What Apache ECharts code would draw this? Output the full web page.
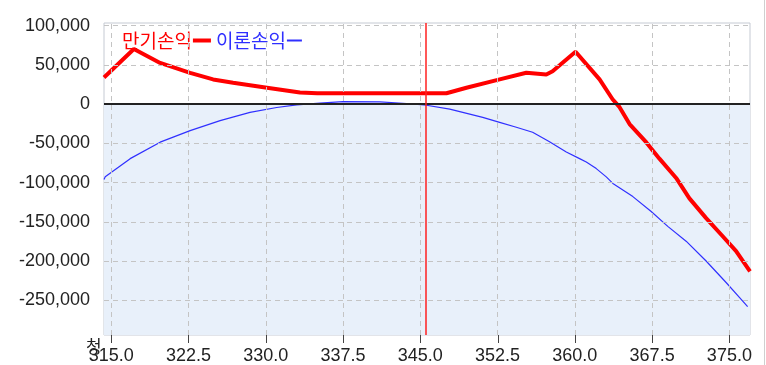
<!DOCTYPE html>
<html><head><meta charset="utf-8">
<script src="https://cdn.jsdelivr.net/npm/echarts@6/dist/echarts.min.js"></script>
<style>html,body{margin:0;padding:0;background:#fff}#c{width:766px;height:365px}</style>
</head><body><div id="c"></div>
<script>
// Data
const expiryName = '만기손익';
const theoryName = '이론손익';
const expiryX = [314.3, 317.2, 319.75, 322.66, 324.89, 326.83, 330.12, 333.32, 335.0, 347.54, 349.48, 352.70, 355.29, 357.23, 357.84, 360.07, 362.40, 363.66, 364.34, 365.31, 366.92, 368.21, 369.83, 371.12, 372.74, 374.35, 375.65, 377.0];
const expiryY = [34100, 70300, 52600, 40000, 31600, 27400, 21000, 14800, 14000, 14000, 21000, 31600, 40000, 37900, 42000, 66900, 31600, 6300, -3800, -25300, -48400, -69400, -94000, -120000, -145200, -168300, -187200, -213000];
const theoryX = [314.3, 314.42, 316.84, 319.75, 322.66, 325.57, 328.47, 331.06, 333.0, 335.26, 337.49, 341.07, 343.66, 345.6, 347.86, 351.06, 352.70, 354.32, 355.90, 357.5, 359.17, 360.46, 361.11, 362.08, 363.05, 363.69, 365.63, 367.41, 369.02, 370.80, 372.74, 374.68, 375.97, 376.77];
const theoryY = [-96000, -92600, -69400, -48400, -33700, -21000, -10500, -4200, -900, 1300, 3400, 2900, 900, -1300, -6300, -16800, -23100, -29400, -35700, -47500, -61000, -69400, -73600, -82100, -92600, -101000, -117800, -136700, -155700, -174600, -199900, -227300, -246200, -258000];
const xTicks = [315, 322.5, 330, 337.5, 345, 352.5, 360, 367.5, 375];
const yTicks = [-250000, -200000, -150000, -100000, -50000, 0, 50000, 100000];
const currentPrice = 345.57;
const xMin = 314.3, xMax = 377.0;
const yMin = -294200, yMax = 103500;

const zip = (a, b) => a.map((v, i) => [v, b[i]]);
const fmtNum = v => v.toLocaleString('en-US');
const gridStyle = {color: '#c4c4c4', type: [5, 4], width: 1};
const gridLines = xTicks.map(v => ({xAxis: v, lineStyle: gridStyle}))
  .concat(yTicks.filter(v => v !== 0).map(v => ({yAxis: v, lineStyle: gridStyle})));

const G = {left: 104, top: 23, width: 646, height: 315};

const chart = echarts.init(document.getElementById('c'), null, {renderer: 'canvas'});
const baseGraphic = [
  {id: 'cheong', type: 'text', left: 86, top: 338, style: {text: '청', fontFamily: 'Noto Sans CJK KR', fontSize: 17, fill: '#222'}, z: 10},
  {id: 'frame', type: 'line', shape: {x1: 764.5, y1: 0, x2: 764.5, y2: 365}, style: {stroke: '#cfcfcf', lineWidth: 1}}
];
chart.setOption({
  animation: false,
  backgroundColor: '#fff',
  grid: Object.assign({show: true, borderColor: '#c5cad3', borderWidth: 1, backgroundColor: 'transparent'}, G),
  legend: [
    {
      left: 117, top: 26, align: 'right', icon: 'rect', itemWidth: 18, itemHeight: 4,
      textStyle: {fontFamily: 'Noto Sans CJK KR', fontSize: 19, color: '#ff0000', padding: [0, -4, 0, 0]},
      data: [expiryName]
    },
    {
      left: 211, top: 26, align: 'right', icon: 'rect', itemWidth: 15, itemHeight: 2,
      textStyle: {fontFamily: 'Noto Sans CJK KR', fontSize: 19, color: '#2f2fff', padding: [0, -4, 0, 0]},
      data: [theoryName]
    }
  ],
  xAxis: {
    type: 'value', min: xMin, max: xMax,
    axisLine: {show: false},
    axisTick: {show: false},
    axisLabel: {customValues: xTicks, formatter: v => v.toFixed(1), margin: 12, color: '#222', fontFamily: 'Liberation Sans', fontSize: 18},
    splitLine: {show: false}
  },
  yAxis: {
    type: 'value', min: yMin, max: yMax,
    axisLine: {show: false},
    axisTick: {show: false},
    axisLabel: {customValues: yTicks, formatter: v => fmtNum(v), margin: 14, color: '#222', fontFamily: 'Liberation Sans', fontSize: 18},
    splitLine: {show: false}
  },
  series: [
    {
      name: 'area', type: 'line', data: [], z: 0, silent: true,
      markArea: {silent: true, itemStyle: {color: '#e8f0fa'}, data: [[{yAxis: 0}, {yAxis: yMin}]]}
    },
    {
      name: 'grid', type: 'line', data: [], z: 1, silent: true,
      markLine: {silent: true, symbol: 'none', label: {show: false}, data: gridLines}
    },
    {
      name: theoryName, type: 'line', data: zip(theoryX, theoryY), symbol: 'none', z: 3,
      lineStyle: {color: '#3030ff', width: 1.2}, itemStyle: {color: '#3030ff'}
    },
    {
      name: expiryName, type: 'line', data: zip(expiryX, expiryY), symbol: 'none', z: 4,
      lineStyle: {color: '#ff0000', width: 4}, itemStyle: {color: '#ff0000'},
      markLine: {silent: true, symbol: 'none', label: {show: false}, data: [
        {yAxis: 0, lineStyle: {color: '#222', width: 2, type: 'solid'}},
        {xAxis: currentPrice, lineStyle: {color: '#ff2020', width: 1.5, type: 'solid'}}
      ]}
    }
  ],
  graphic: baseGraphic
});

// x-axis tick marks below the plot, placed through the axis scale
const bottomPx = chart.convertToPixel({yAxisIndex: 0}, yMin);
const tickMarks = xTicks.map((v, i) => {
  const px = Math.round(chart.convertToPixel({xAxisIndex: 0}, v)) + 0.5;
  return {id: 'tick' + i, type: 'line', shape: {x1: px, y1: bottomPx, x2: px, y2: bottomPx + 8}, style: {stroke: '#444', lineWidth: 1}, z: 5};
});
chart.setOption({graphic: baseGraphic.concat(tickMarks)});
</script></body></html>
